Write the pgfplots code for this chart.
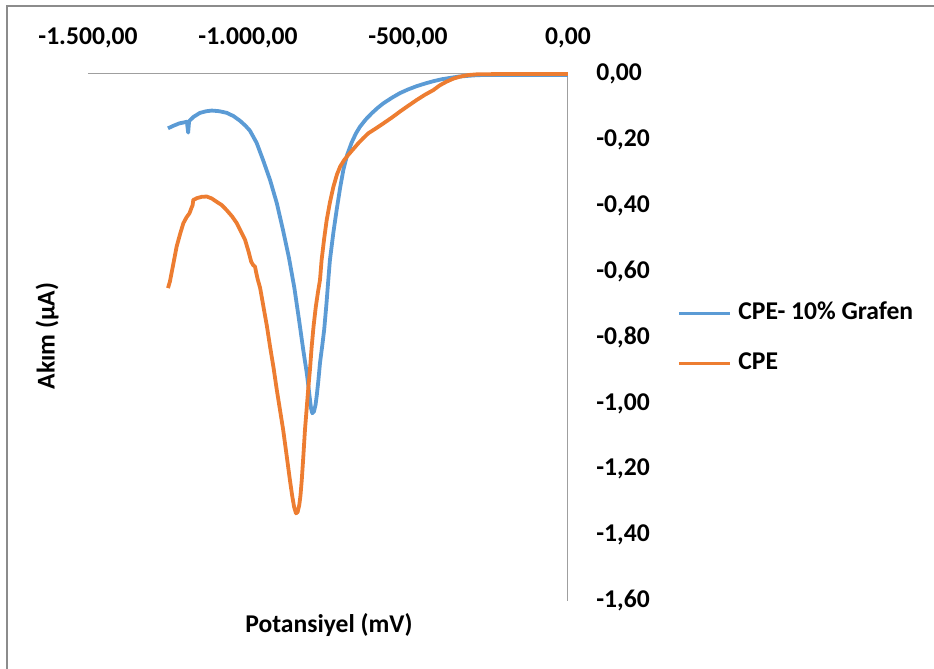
\documentclass[border=0pt]{standalone}
\usepackage{pgfplots}
\pgfplotsset{compat=1.18}
\usepackage{fontspec}
\setmainfont{Carlito}
\definecolor{cblue}{HTML}{5B9BD5}
\definecolor{corange}{HTML}{ED7D31}
\definecolor{frame}{HTML}{8C8C8C}
\begin{document}
\begin{tikzpicture}
\path[use as bounding box] (0,0) rectangle (467pt,334.5pt);
\draw[frame, line width=1pt] (3.5pt,0pt) -- (3.5pt,331.5pt) -- (467pt,331.5pt);
\begin{axis}[
  at={(44pt,34pt)}, anchor=south west,
  width=240pt, height=263.5pt, scale only axis,
  xmin=-1500, xmax=0, ymin=-1.6, ymax=0,
  axis x line=top, axis y line=right,
  axis line style={-, draw=gray!75, line width=0.5pt},
  major tick length=0pt,
  xtick={-1500,-1000,-500,0},
  xticklabels={{-1.500,00},{-1.000,00},{-500,00},{0,00}},
  ytick={0,-0.2,-0.4,-0.6,-0.8,-1.0,-1.2,-1.4,-1.6},
  yticklabels={{0,00},{-0,20},{-0,40},{-0,60},{-0,80},{-1,00},{-1,20},{-1,40},{-1,60}},
  xticklabel style={anchor=center, inner sep=0pt, yshift=18pt},
  yticklabel style={anchor=west, inner sep=0pt, xshift=14pt},
  tick label style={font=\bfseries\fontsize{12.8}{14}\selectfont, text=black},
  xlabel={Potansiyel (mV)},
  ylabel={Akım (µA)},
  xlabel style={at={(axis description cs:0.502,-0.0455)}, anchor=center, font=\bfseries\fontsize{12.8}{14}\selectfont},
  ylabel style={at={(axis description cs:-0.085,0.503)}, anchor=center, rotate=0, font=\bfseries\fontsize{12.8}{14}\selectfont},
  clip=false,
  legend style={at={(1.227,0.499)}, anchor=west, draw=none, fill=none, inner sep=0pt,
    font=\bfseries\fontsize{12.8}{14}\selectfont, row sep=13pt, column sep=3.5pt,
    nodes={inner sep=0pt, text height=9pt, text depth=3pt}},
  legend cell align=left,
  legend image code/.code={\draw[#1, line width=1.5pt] (0pt,0pt) -- (25.5pt,0pt);},
]
\addplot[cblue, line width=1.9pt, line join=round] coordinates {
(-1250,-0.165) (-1235,-0.158) (-1215,-0.150) (-1200,-0.147) (-1191,-0.145) (-1187,-0.178) (-1184,-0.143)
(-1170,-0.130) (-1150,-0.118) (-1130,-0.113) (-1113,-0.111) (-1090,-0.113) (-1066,-0.118)
(-1045,-0.128) (-1025,-0.142) (-1008,-0.157) (-994,-0.172) (-973,-0.209) (-953,-0.261)
(-931,-0.322) (-910,-0.392) (-891,-0.472) (-872,-0.558) (-855,-0.650) (-840,-0.750)
(-827,-0.840) (-816,-0.910) (-808,-0.975) (-803,-1.015) (-799,-1.030) (-794,-1.025)
(-789,-1.005) (-785,-0.975) (-780,-0.930) (-775,-0.877) (-768,-0.825) (-762,-0.777)
(-755,-0.700) (-749,-0.625) (-744,-0.565) (-733,-0.480) (-723,-0.413) (-712,-0.345)
(-702,-0.291) (-690,-0.245) (-676,-0.208) (-663,-0.181) (-650,-0.160) (-632,-0.138)
(-613,-0.119) (-595,-0.103) (-577,-0.089) (-550,-0.072) (-525,-0.058) (-500,-0.047)
(-473,-0.037) (-447,-0.029) (-421,-0.022) (-395,-0.016) (-369,-0.012) (-343,-0.008)
(-317,-0.006) (-290,-0.004) (-265,-0.003) (-200,-0.003) (-100,-0.003) (0,-0.003)
};
\addlegendentry{CPE- 10\% Grafen}
\addplot[corange, line width=1.9pt, line join=round] coordinates {
(-1250,-0.650) (-1244,-0.630) (-1233,-0.575) (-1223,-0.524) (-1212,-0.485) (-1202,-0.453)
(-1192,-0.435) (-1183,-0.423) (-1176,-0.405) (-1173,-0.398) (-1171,-0.382) (-1165,-0.380)
(-1160,-0.377) (-1145,-0.373) (-1129,-0.372) (-1113,-0.378) (-1098,-0.388) (-1082,-0.398)
(-1067,-0.413) (-1050,-0.432) (-1035,-0.453) (-1022,-0.478) (-1009,-0.504) (-998,-0.540)
(-990,-0.570) (-987,-0.575) (-984,-0.580) (-978,-0.585) (-975,-0.600) (-970,-0.622)
(-962,-0.650) (-952,-0.705) (-941,-0.765) (-931,-0.828) (-920,-0.893) (-910,-0.959)
(-900,-1.020) (-890,-1.081) (-879,-1.160) (-869,-1.233) (-862,-1.280) (-856,-1.314)
(-850,-1.334) (-845,-1.330) (-840,-1.310) (-836,-1.280) (-832,-1.233) (-827,-1.160)
(-822,-1.081) (-817,-1.020) (-812,-0.959) (-806,-0.893) (-801,-0.828) (-795,-0.765)
(-788,-0.706) (-781,-0.660) (-775,-0.625) (-770,-0.565) (-762,-0.500) (-754,-0.443)
(-744,-0.390) (-733,-0.342) (-722,-0.305) (-712,-0.281) (-700,-0.262) (-687,-0.246)
(-671,-0.228) (-655,-0.210) (-640,-0.195) (-624,-0.180) (-600,-0.165) (-577,-0.150)
(-550,-0.132) (-525,-0.114) (-500,-0.097) (-473,-0.079) (-447,-0.063) (-421,-0.049)
(-400,-0.034) (-379,-0.023) (-358,-0.014) (-337,-0.008) (-310,-0.003) (-285,-0.001)
(-200,0) (-100,0) (0,0)
};
\addlegendentry{CPE}
\end{axis}
\end{tikzpicture}
\end{document}
